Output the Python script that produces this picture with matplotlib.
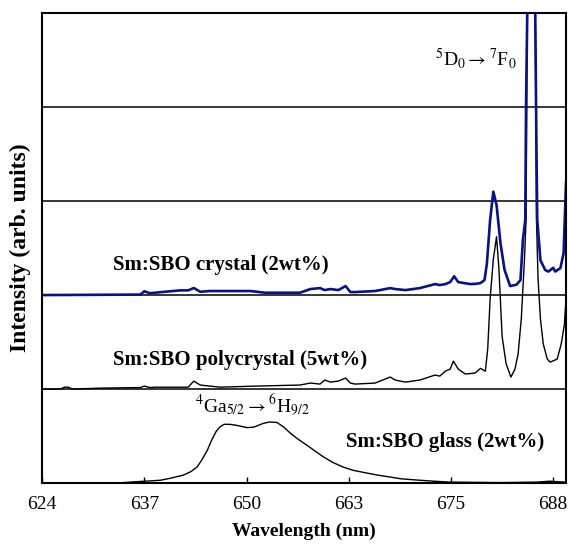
import numpy as np
import matplotlib
matplotlib.use("Agg")
import matplotlib.pyplot as plt

plt.rcParams['font.family'] = ['Liberation Serif', 'DejaVu Serif']
plt.rcParams['mathtext.fontset'] = 'stix'

# Sm:SBO crystal (2wt%) - relative intensity, drawn on baseline 2
crystal_nm = [624.0, 636.3, 636.8, 637.5, 640.0, 641.3, 642.3, 643.0, 643.8, 645.0,
              650.1, 651.9, 656.3, 657.6, 658.8, 659.4, 660.1, 661.1, 662.0, 662.6,
              663.2, 665.7, 667.6, 668.2, 669.5, 671.3, 673.2, 673.8, 674.5, 675.1,
              675.6, 676.1, 677.6, 678.4, 678.9, 679.4, 679.7, 680.1, 680.5, 680.9,
              681.4, 681.9, 682.6, 683.4, 683.9, 684.2, 684.5, 684.6, 684.75, 685.25,
              685.75, 685.9, 686.0, 686.4, 687.0, 687.4, 688.0, 688.25, 688.9, 689.3,
              689.6]
crystal_int = [0.0, 0.005, 0.04, 0.02, 0.04, 0.05, 0.05, 0.075, 0.035, 0.043,
               0.043, 0.025, 0.025, 0.064, 0.074, 0.053, 0.064, 0.053, 0.096, 0.032,
               0.032, 0.043, 0.074, 0.064, 0.053, 0.074, 0.117, 0.106, 0.117, 0.138,
               0.2, 0.138, 0.117, 0.12, 0.128, 0.16, 0.34, 0.8, 1.1, 0.96,
               0.55, 0.27, 0.096, 0.11, 0.16, 0.585, 0.8, 2.05, 3.0, 3.5,
               3.0, 1.55, 0.8, 0.37, 0.266, 0.25, 0.29, 0.25, 0.287, 0.447,
               1.19]

# Sm:SBO polycrystal (5wt%) - relative intensity, drawn on baseline 1
poly_nm = [624.0, 626.3, 626.8, 627.3, 627.8, 631.3, 636.3, 636.8, 637.5, 638.2,
           640.0, 642.3, 643.0, 643.8, 646.3, 650.1, 656.3, 657.6, 658.8, 659.4,
           660.1, 661.1, 662.0, 662.6, 663.2, 665.7, 667.6, 668.2, 669.5, 671.3,
           673.2, 673.8, 674.5, 675.1, 675.5, 676.1, 677.0, 678.2, 678.9, 679.5,
           679.8, 680.1, 680.5, 680.9, 681.2, 681.6, 682.1, 682.7, 683.2, 683.6,
           684.0, 684.4, 684.6, 684.75, 685.25, 685.75, 685.9, 686.1, 686.4, 686.75,
           687.25, 687.6, 688.0, 688.5, 689.0, 689.4, 689.6]
poly_int = [0.0, 0.0, 0.02, 0.02, 0.0, 0.01, 0.016, 0.032, 0.016, 0.02,
            0.02, 0.02, 0.085, 0.043, 0.02, 0.03, 0.043, 0.064, 0.053, 0.096,
            0.074, 0.085, 0.117, 0.064, 0.053, 0.064, 0.128, 0.096, 0.074, 0.096,
            0.149, 0.138, 0.191, 0.213, 0.297, 0.213, 0.16, 0.17, 0.22, 0.19,
            0.43, 0.96, 1.38, 1.62, 1.28, 0.56, 0.27, 0.128, 0.21, 0.37,
            0.745, 1.38, 1.81, 4.0, 4.6, 4.0, 1.81, 1.17, 0.745, 0.48,
            0.32, 0.287, 0.3, 0.32, 0.48, 0.69, 0.96]

# Sm:SBO glass (2wt%) - baseline 0
glass_nm = [633.4, 635.0, 636.9, 638.8, 640.0, 641.7, 642.6, 643.4, 644.0, 644.7,
            645.2, 645.8, 646.3, 646.8, 647.5, 648.3, 649.7, 650.5, 651.7, 652.5,
            653.4, 654.2, 655.1, 656.0, 657.2, 658.2, 659.2, 660.4, 661.7, 663.0,
            664.7, 666.0, 667.6, 669.0, 671.0, 673.0, 675.1, 681.4, 686.0, 687.5,
            688.5, 689.6]
glass_int = [0.0, 0.01, 0.02, 0.03, 0.05, 0.085, 0.12, 0.17, 0.245, 0.35,
             0.45, 0.55, 0.6, 0.625, 0.625, 0.615, 0.59, 0.595, 0.635, 0.65,
             0.645, 0.6, 0.53, 0.47, 0.40, 0.34, 0.28, 0.22, 0.17, 0.135,
             0.106, 0.085, 0.064, 0.045, 0.032, 0.02, 0.01, 0.005, 0.01, 0.02,
             0.015, 0.01]

offsets = {'glass': 0, 'poly': 1, 'crystal': 2}
dividers = [1, 2, 3, 4]
tick_pos = np.linspace(624, 688, 6)
tick_labels = ['624', '637', '650', '663', '675', '688']

fig = plt.figure(figsize=(5.68, 5.44), dpi=100)
ax = fig.add_axes([0.074, 0.112, 0.9225, 0.864])

for y in dividers:
    ax.axhline(y, color='black', lw=1.1)

ax.plot(glass_nm, np.array(glass_int) + offsets['glass'], color='black', lw=1.0)
ax.plot(poly_nm, np.array(poly_int) + offsets['poly'], color='black', lw=1.0)
ax.plot(crystal_nm, np.array(crystal_int) + offsets['crystal'], color='#0a1282', lw=1.9)

ax.set_xlim(624, 689.6)
ax.set_ylim(0, 5)
ax.set_yticks([])
ax.set_xticks(tick_pos)
ax.set_xticklabels(tick_labels)
ax.tick_params(axis='x', direction='in', length=4, width=1, labelsize=14, pad=9)
for s in ax.spines.values():
    s.set_linewidth(1.5)

ax.set_xlabel('Wavelength (nm)', fontsize=14, fontweight='bold', labelpad=7)
ax.set_ylabel('Intensity (arb. units)', fontsize=17, fontweight='bold', labelpad=8)

ax.text(632.9, 2.32, 'Sm:SBO crystal (2wt%)', fontsize=15, fontweight='bold', va='center')
ax.text(632.9, 1.31, 'Sm:SBO polycrystal (5wt%)', fontsize=15, fontweight='bold', va='center')
ax.text(662.0, 0.44, 'Sm:SBO glass (2wt%)', fontsize=15, fontweight='bold', va='center')
ax.text(673.2, 4.52, r'$^5$D$_0$$\rightarrow$$^7$F$_0$', fontsize=14, va='center')
ax.text(643.2, 0.83, r'$^4$Ga$_{5/2}$$\rightarrow$$^6$H$_{9/2}$', fontsize=14, va='center')

fig.savefig('out.png', dpi=100)
